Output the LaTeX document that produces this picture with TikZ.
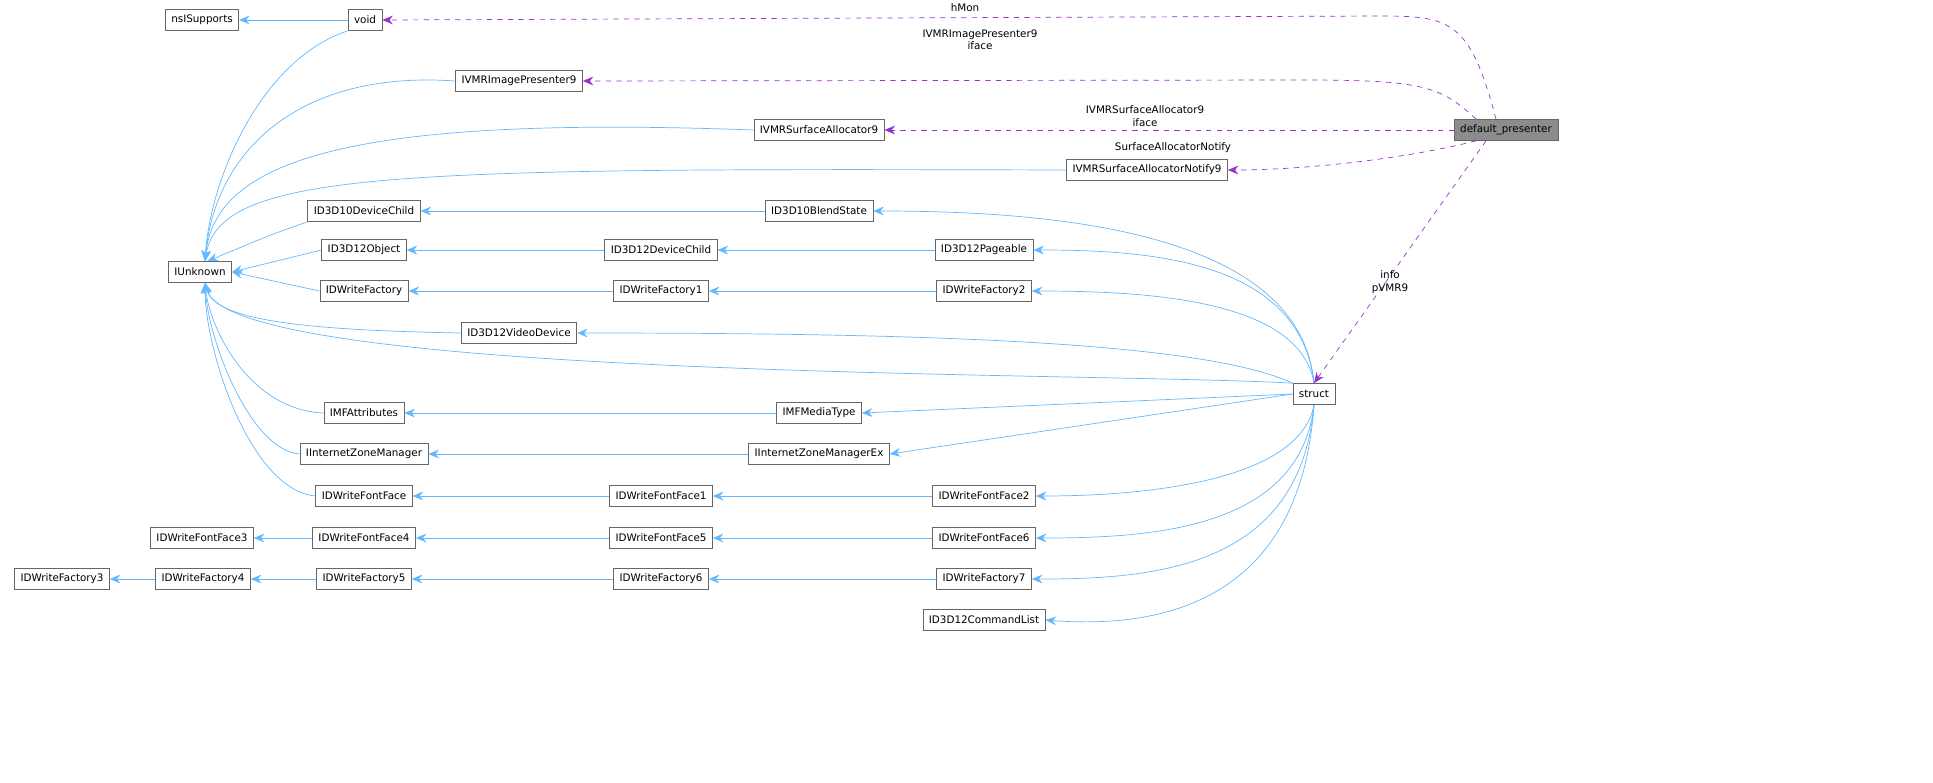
\documentclass[tikz,border=0pt]{standalone}
\usepackage{fontspec}
\setmainfont{DejaVu Sans}
\usetikzlibrary{shapes,arrows,arrows.meta}
\definecolor{inhblue}{HTML}{63B8FF}
\definecolor{deppurple}{HTML}{9A32CD}
\begin{document}
\begin{tikzpicture}[x=0.02cm,y=-0.02cm,font=\fontsize{5.9}{7}\selectfont]
	\tikzstyle{cls}=[draw=black!60,fill=white,text centered,minimum height=0.42cm,inner xsep=0.12cm,inner ysep=0pt]
	\tikzstyle{inh}=[draw=inhblue,-{Stealth[length=6pt,width=5pt]}]
	\tikzstyle{dep}=[draw=deppurple,dashed,-{Stealth[length=6pt,width=5pt]}]
	\tikzstyle{lbl}=[text centered,inner sep=0pt,align=center]
	% classes, left to right
	\node[cls] (nsisupports) at (202,20) {nsISupports};
	\node[cls] (void) at (365,20) {void};
	\node[cls] (vmrpresenter) at (519,81) {IVMRImagePresenter9};
	\node[cls] (vmralloc) at (819,130) {IVMRSurfaceAllocator9};
	\node[cls,fill=black!45] (dp) at (1506,130) {default\_presenter};
	\node[cls] (vmrnotify) at (1147,170) {IVMRSurfaceAllocatorNotify9};
	\node[cls] (d3d10child) at (364,211) {ID3D10DeviceChild};
	\node[cls] (d3d10blend) at (819,211) {ID3D10BlendState};
	\node[cls] (iunknown) at (200,272) {IUnknown\hspace{0.6cm}};
	\node[cls] (d3d12obj) at (364,250) {ID3D12Object};
	\node[cls] (d3d12child) at (661,250) {ID3D12DeviceChild};
	\node[cls] (d3d12page) at (984,250) {ID3D12Pageable};
	\node[cls] (dwfact) at (364,291) {IDWriteFactory};
	\node[cls] (dwfact1) at (661,291) {IDWriteFactory1};
	\node[cls] (dwfact2) at (984,291) {IDWriteFactory2};
	\node[cls] (d3d12video) at (519,333) {ID3D12VideoDevice};
	\node[cls] (struct) at (1314,394) {struct};
	\node[cls] (mfattr) at (364,413) {IMFAttributes};
	\node[cls] (mfmedia) at (819,413) {IMFMediaType};
	\node[cls] (izone) at (364,454) {IInternetZoneManager};
	\node[cls] (izoneex) at (819,454) {IInternetZoneManagerEx};
	\node[cls] (dwface) at (364,496) {IDWriteFontFace};
	\node[cls] (dwface1) at (661,496) {IDWriteFontFace1};
	\node[cls] (dwface2) at (984,496) {IDWriteFontFace2};
	\node[cls] (dwface3) at (202,538) {IDWriteFontFace3};
	\node[cls] (dwface4) at (364,538) {IDWriteFontFace4};
	\node[cls] (dwface5) at (661,538) {IDWriteFontFace5};
	\node[cls] (dwface6) at (984,538) {IDWriteFontFace6};
	\node[cls] (dwfact3) at (62,579) {IDWriteFactory3};
	\node[cls] (dwfact4) at (203,579) {IDWriteFactory4};
	\node[cls] (dwfact5) at (364,579) {IDWriteFactory5};
	\node[cls] (dwfact6) at (661,579) {IDWriteFactory6};
	\node[cls] (dwfact7) at (984,579) {IDWriteFactory7};
	\node[cls] (cmdlist) at (984,620) {ID3D12CommandList};
	% inheritance, straight
	\draw[inh] (void) -- (nsisupports);
	\draw[inh] (d3d10blend) -- (d3d10child);
	\draw[inh] (d3d12child) -- (d3d12obj);
	\draw[inh] (d3d12page) -- (d3d12child);
	\draw[inh] (dwfact1) -- (dwfact);
	\draw[inh] (dwfact2) -- (dwfact1);
	\draw[inh] (mfmedia) -- (mfattr);
	\draw[inh] (izoneex) -- (izone);
	\draw[inh] (dwface1) -- (dwface);
	\draw[inh] (dwface2) -- (dwface1);
	\draw[inh] (dwface4) -- (dwface3);
	\draw[inh] (dwface5) -- (dwface4);
	\draw[inh] (dwface6) -- (dwface5);
	\draw[inh] (dwfact4) -- (dwfact3);
	\draw[inh] (dwfact5) -- (dwfact4);
	\draw[inh] (dwfact6) -- (dwfact5);
	\draw[inh] (dwfact7) -- (dwfact6);
	% into IUnknown
	\draw[inh] (void.south west) .. controls (260,60) and (210,180) .. ([xshift=0.1cm]iunknown.north);
	\draw[inh] (vmrpresenter.west) .. controls (300,70) and (215,150) .. ([xshift=0.1cm]iunknown.north);
	\draw[inh] (vmralloc.west) .. controls (350,115) and (215,160) .. ([xshift=0.1cm]iunknown.north);
	\draw[inh] (vmrnotify.west) .. controls (400,168) and (220,170) .. ([xshift=0.1cm]iunknown.north);
	\draw[inh] (d3d10child.south west) .. controls (270,235) .. ([xshift=0.15cm]iunknown.north);
	\draw[inh] (d3d12obj.west) -- (iunknown.east);
	\draw[inh] (dwfact.west) -- (iunknown.east);
	\draw[inh] (d3d12video.west) .. controls (300,330) and (215,320) .. ([xshift=0.1cm]iunknown.south);
	\draw[inh] (struct.north west) .. controls (1100,372) and (230,380) .. ([xshift=0.1cm]iunknown.south);
	\draw[inh] (mfattr.west) .. controls (250,410) and (210,330) .. ([xshift=0.1cm]iunknown.south);
	\draw[inh] (izone.west) .. controls (250,450) and (208,340) .. ([xshift=0.1cm]iunknown.south);
	\draw[inh] (dwface.west) .. controls (250,490) and (205,350) .. ([xshift=0.1cm]iunknown.south);
	% into struct
	\draw[inh] (struct.north) .. controls (1300,230) and (1050,211) .. (d3d10blend.east);
	\draw[inh] (struct.north) .. controls (1300,260) and (1150,250) .. (d3d12page.east);
	\draw[inh] (struct.north) .. controls (1300,300) and (1150,291) .. (dwfact2.east);
	\draw[inh] (struct.north west) .. controls (1200,340) and (900,333) .. (d3d12video.east);
	\draw[inh] (struct.west) -- (mfmedia.east);
	\draw[inh] (struct.west) -- (izoneex.east);
	\draw[inh] (struct.south) .. controls (1300,480) and (1150,496) .. (dwface2.east);
	\draw[inh] (struct.south) .. controls (1300,530) and (1150,538) .. (dwface6.east);
	\draw[inh] (struct.south) .. controls (1300,570) and (1150,579) .. (dwfact7.east);
	\draw[inh] (struct.south) .. controls (1300,610) and (1150,628) .. (cmdlist.east);
	% members of default_presenter
	\draw[dep] ([xshift=-0.2cm]dp.north) .. controls (1470,20) and (1450,16) .. (1380,16) -- (void.east);
	\draw[dep] ([xshift=-0.6cm]dp.north) .. controls (1440,85) and (1420,80) .. (1300,80) -- (vmrpresenter.east);
	\draw[dep] (dp.west) -- (vmralloc.east);
	\draw[dep] ([xshift=-0.6cm]dp.south) .. controls (1400,160) and (1300,170) .. (vmrnotify.east);
	\draw[dep] ([xshift=-0.4cm]dp.south) -- (struct.north);
	% member labels
	\node[lbl] (lhmon) at (965,8) {hMon};
	\node[lbl] (lpres) at (980,40) {IVMRImagePresenter9\\iface};
	\node[lbl] (lalloc) at (1145,116) {IVMRSurfaceAllocator9\\iface};
	\node[lbl] (lnotify) at (1173,148) {SurfaceAllocatorNotify};
	\node[lbl] (linfo) at (1390,282) {info\\pVMR9};
	\pgfresetboundingbox
	\useasboundingbox (0,0) rectangle (1933,782);
\end{tikzpicture}
\end{document}
